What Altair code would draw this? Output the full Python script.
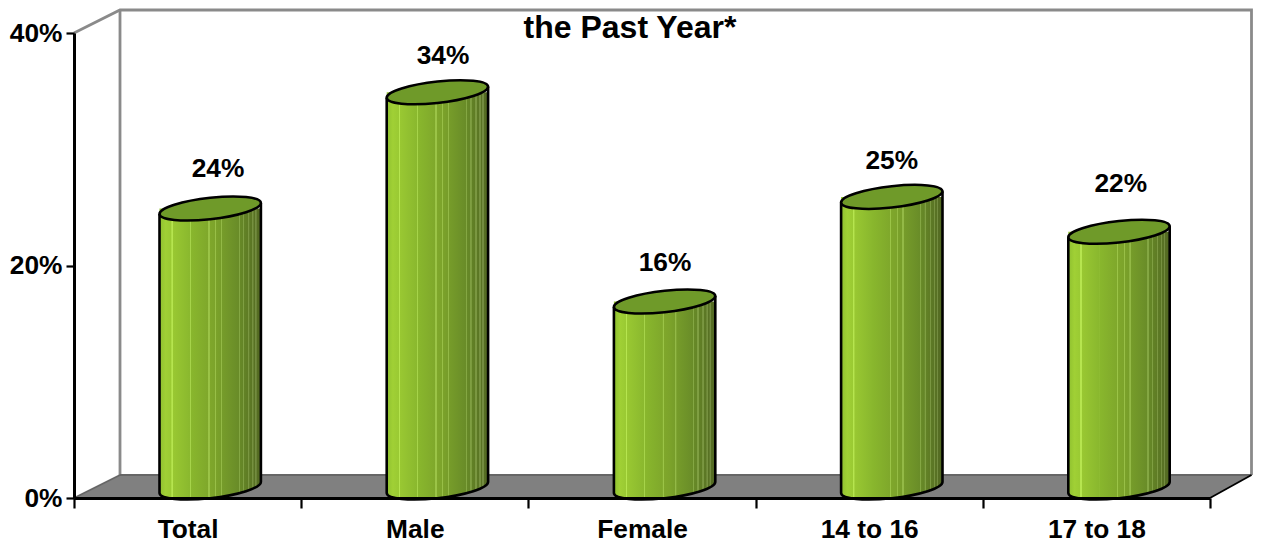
import altair as alt
import pandas as pd

# ---- data ----
CATEGORIES = ["Total", "Male", "Female", "14 to 16", "17 to 18"]
VALUES = [24, 34, 16, 25, 22]
VALUE_LABELS = ["24%", "34%", "16%", "25%", "22%"]
Y_TICKS = [0, 20, 40]
TITLE_LINE = "the Past Year*"

# ---- layout / style (pixels relative to the plot area) ----
PLOT_W, PLOT_H = 1136, 465
DEPTH_X, DEPTH_Y = 46, 23
RIGHT_DEPTH_X = 41.5   # the page ends just past this, so the right wall has to stay inside it
CYL_DX = 22.6
CYL_DY = -10.5
CYL_R = 50.7
TILT = 5.5 / CYL_R
MINOR = 10.7 / CYL_R
FONT = "Liberation Sans"
FS = 26.3
STROKE = 2.6
LABEL_NUDGE = {"Total": (30.4, -50.5), "Male": (28.2, -46.6), "Female": (23, -49.5),
               "14 to 16": (22.6, -46), "17 to 18": (24.4, -57.8)}

df = pd.DataFrame({"cat": CATEGORIES, "value": VALUES, "label": VALUE_LABELS})


def pt(c, s):
    """unit-circle point -> skewed ellipse point"""
    return f"{c:.4f},{-TILT * c + MINOR * s:.4f}"


K = 0.5523
ELLIPSE = (f"M{pt(1, 0)}"
           f"C{pt(1, K)} {pt(K, 1)} {pt(0, 1)}"
           f"C{pt(-K, 1)} {pt(-1, K)} {pt(-1, 0)}"
           f"C{pt(-1, -K)} {pt(-K, -1)} {pt(0, -1)}"
           f"C{pt(K, -1)} {pt(1, -K)} {pt(1, 0)}Z")
ARC = (f"M{pt(-1, 0)}"
       f"C{pt(-1, K)} {pt(-K, 1)} {pt(0, 1)}"
       f"C{pt(K, 1)} {pt(1, K)} {pt(1, 0)}")
BOTTOM = (f"M-1,{-TILT:.4f}L{pt(-1, 0)}"
          f"C{pt(-1, K)} {pt(-K, 1)} {pt(0, 1)}"
          f"C{pt(K, 1)} {pt(1, K)} {pt(1, 0)}Z")
SYM_SIZE = (2 * CYL_R) ** 2

# horizontal shading with the thin light stripes of the reference
BASE = [(0.0, (0x8f, 0xc0, 0x30)), (0.06, (0xa0, 0xd0, 0x35)), (0.3, (0x8a, 0xb8, 0x2e)),
        (0.55, (0x7c, 0xa3, 0x2b)), (0.78, (0x69, 0x8c, 0x28)), (1.0, (0x52, 0x68, 0x23))]
STRIPES = [0.125, 0.30, 0.487, 0.55, 0.61, 0.785, 0.83, 0.88, 0.92, 0.95]


def base_col(o, lift=0):
    for (a, ca), (b, cb) in zip(BASE, BASE[1:]):
        if a <= o <= b:
            f = (o - a) / (b - a)
            c = [min(255, int(p + (q - p) * f + lift)) for p, q in zip(ca, cb)]
            return "#%02x%02x%02x" % tuple(c)
    return "#526823"


stops = []
pts = sorted({b[0] for b in BASE})
items = sorted([(p, 0) for p in pts] + [(s, 1) for s in STRIPES])
for o, is_stripe in items:
    if is_stripe:
        stops += [(o - 0.008, base_col(o - 0.008)), (o - 0.006, base_col(o, 28)),
                  (o + 0.006, base_col(o, 28)), (o + 0.008, base_col(o + 0.008))]
    else:
        stops.append((o, base_col(o)))
GRAD = alt.Gradient(gradient="linear", x1=0, x2=1, y1=0, y2=0,
                    stops=[alt.GradientStop(color=c, offset=o) for o, c in stops])

x_enc = alt.X("cat:N", sort=CATEGORIES, title=None,
              scale=alt.Scale(paddingInner=0, paddingOuter=0, round=False),
              axis=alt.Axis(labelAngle=0, tickBand="extent", tickSize=10, tickWidth=2.2,
                            tickColor="black", domainColor="black", domainWidth=3,
                            labelFont=FONT, labelFontSize=FS, labelFontWeight="bold",
                            labelColor="black", labelPadding=8, zindex=1, grid=False))
y_enc = alt.Y("value:Q", title=None, scale=alt.Scale(domain=[0, 40], nice=False),
              axis=alt.Axis(values=Y_TICKS, labelExpr="datum.value + '%'", tickSize=8,
                            tickWidth=2.2, tickColor="black", domainColor="black",
                            domainWidth=3, labelFont=FONT, labelFontSize=FS,
                            labelFontWeight="bold", labelColor="black", labelPadding=4,
                            zindex=1, grid=False))
y0 = alt.Y(datum=0)

# ---- walls and floor: decoration in pixels ----
back_y = PLOT_H - DEPTH_Y
top_y = -DEPTH_Y
right_x = PLOT_W + RIGHT_DEPTH_X
floor_df = pd.DataFrame({"px": [0, DEPTH_X, PLOT_W, right_x],
                         "py": [PLOT_H, back_y, back_y, back_y],
                         "py2": [PLOT_H, PLOT_H, PLOT_H, back_y]})
floor = alt.Chart(floor_df).mark_area(color="#808080", opacity=1).encode(
    x=alt.X("px:Q", scale=None, axis=None),
    y=alt.Y("py:Q", scale=None, axis=None),
    y2="py2:Q")

wall_df = pd.DataFrame({
    "px": [0, DEPTH_X, right_x, right_x, DEPTH_X, DEPTH_X],
    "py": [0, top_y, top_y, back_y, top_y, back_y],
    "s": ["a", "a", "a", "a", "b", "b"],
    "o": [0, 1, 2, 3, 0, 1]})
walls = alt.Chart(wall_df).mark_line(color="#8a8a8a", strokeWidth=2.8, opacity=1).encode(
    x=alt.X("px:Q", scale=None, axis=None),
    y=alt.Y("py:Q", scale=None, axis=None),
    detail="s:N", order="o:Q")

edge_df = pd.DataFrame({
    "px": [DEPTH_X, right_x, 0, DEPTH_X, PLOT_W, right_x],
    "py": [back_y, back_y, PLOT_H, back_y, PLOT_H, back_y],
    "s": ["back", "back", "left", "left", "right", "right"],
    "o": [0, 1, 0, 1, 0, 1]})
edges = alt.Chart(edge_df).mark_line(strokeWidth=1.8, opacity=1).encode(
    x=alt.X("px:Q", scale=None, axis=None),
    y=alt.Y("py:Q", scale=None, axis=None),
    color=alt.Color("s:N", legend=None,
                    scale=alt.Scale(domain=["back", "left", "right"],
                                    range=["#666666", "#666666", "#000000"])),
    detail="s:N", order="o:Q")

# ---- cylinders ----
base = alt.Chart(df)
body = base.mark_bar(size=2 * CYL_R, fill=GRAD, stroke=None, xOffset=CYL_DX,
                     yOffset=CYL_DY, y2Offset=CYL_DY - TILT * CYL_R).encode(
    x=x_enc, y=y_enc, y2=alt.Y2(datum=0))
bottom_fill = base.mark_point(shape=BOTTOM, size=SYM_SIZE, filled=True, fill=GRAD,
                              strokeWidth=0, opacity=1, xOffset=CYL_DX, yOffset=CYL_DY).encode(
    x=x_enc, y=y0)
bottom_arc = base.mark_point(shape=ARC, size=SYM_SIZE, filled=False, stroke="black",
                             strokeWidth=STROKE, opacity=1, xOffset=CYL_DX, yOffset=CYL_DY).encode(
    x=x_enc, y=y0)
side_l = base.mark_rule(color="black", strokeWidth=STROKE, xOffset=CYL_DX - CYL_R,
                        yOffset=CYL_DY + TILT * CYL_R, y2Offset=CYL_DY + TILT * CYL_R).encode(
    x=x_enc, y=y_enc, y2=alt.Y2(datum=0))
side_r = base.mark_rule(color="black", strokeWidth=STROKE, xOffset=CYL_DX + CYL_R,
                        yOffset=CYL_DY - TILT * CYL_R, y2Offset=CYL_DY - TILT * CYL_R).encode(
    x=x_enc, y=y_enc, y2=alt.Y2(datum=0))
top = base.mark_point(shape=ELLIPSE, size=SYM_SIZE, filled=True, fill="#6f9a29", stroke="black",
                      strokeWidth=STROKE, opacity=1, xOffset=CYL_DX, yOffset=CYL_DY).encode(
    x=x_enc, y=y_enc)

labels = [
    base.transform_filter(alt.datum.cat == c).mark_text(
        font=FONT, fontSize=FS, fontWeight="bold", color="black", align="center",
        baseline="middle", dx=LABEL_NUDGE[c][0], dy=LABEL_NUDGE[c][1]).encode(
        x=x_enc, y=y_enc, text="label:N")
    for c in CATEGORIES
]

title = alt.Chart(pd.DataFrame({"t": [TITLE_LINE]})).mark_text(
    font=FONT, fontSize=32.0, fontWeight="bold", color="black", align="center",
    baseline="middle").encode(x=alt.value(556), y=alt.value(-5), text="t:N")

chart = alt.layer(floor, walls, edges, body, bottom_fill, bottom_arc, side_l, side_r, top,
                  *labels, title).properties(
    width=PLOT_W, height=PLOT_H, autosize="none",
    padding={"left": 66, "top": 25, "right": 43, "bottom": 44},
).configure_view(stroke=None).configure_point(opacity=1)

chart.save("out.html", embed_options={"renderer": "svg", "actions": False})
